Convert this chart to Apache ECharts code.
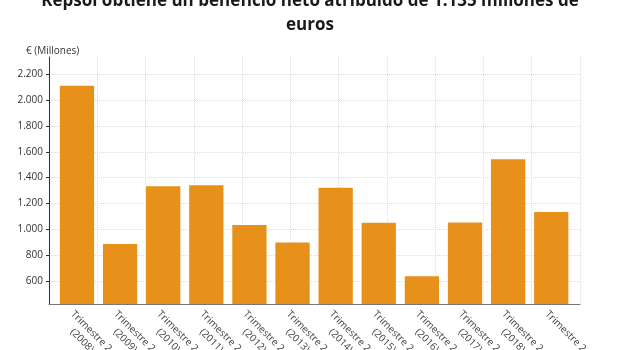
<!DOCTYPE html>
<html>
<head>
<meta charset="utf-8">
<script src="https://cdn.jsdelivr.net/npm/echarts@6.0.0/dist/echarts.min.js"></script>
<style>
html, body { margin: 0; padding: 0; background: #fff; }
#chart { width: 620px; height: 350px; }
</style>
</head>
<body>
<div id="chart"></div>
<script>
// datos
var categorias = ['Trimestre 2\n(2008)', 'Trimestre 2\n(2009)', 'Trimestre 2\n(2010)', 'Trimestre 2\n(2011)',
    'Trimestre 2\n(2012)', 'Trimestre 2\n(2013)', 'Trimestre 2\n(2014)', 'Trimestre 2\n(2015)',
    'Trimestre 2\n(2016)', 'Trimestre 2\n(2017)', 'Trimestre 2\n(2018)', 'Trimestre 2'];
var beneficio = [2112, 886, 1333, 1341, 1033, 896, 1322, 1049, 636, 1051, 1542, 1133];
var yTicks = [600, 800, 1000, 1200, 1400, 1600, 1800, 2000, 2200];

function miles(v) {
    return String(v).replace(/\B(?=(\d{3})+(?!\d))/g, '.');
}

var chart = echarts.init(document.getElementById('chart'));
var fuente = '"Open Sans", sans-serif';

var option = {
    backgroundColor: '#fff',
    animation: false,
    title: [{
        text: 'Repsol obtiene un beneficio neto atribuido de 1.135 millones de\neuros',
        left: 'center',
        top: -16,
        textStyle: {
            fontFamily: fuente,
            fontSize: 17,
            fontWeight: 'bold',
            color: '#1a1a1a',
            lineHeight: 24,
            align: 'center'
        }
    }, {
        text: '€ (Millones)',
        left: 21,
        top: 41,
        textStyle: {
            fontFamily: fuente,
            fontSize: 10,
            fontWeight: 'normal',
            color: '#333'
        }
    }],
    grid: [
        {left: 49, right: 40, top: 57, bottom: 46, outerBoundsMode: 'none'},
        {left: 55.4, right: 47.2, top: 57, bottom: 46, outerBoundsMode: 'none'}
    ],
    xAxis: [{
        // rejilla vertical de fondo
        type: 'value',
        gridIndex: 0,
        min: 0,
        max: 11,
        interval: 1,
        axisLine: {show: true, lineStyle: {color: '#777', width: 1}},
        axisTick: {show: false},
        axisLabel: {show: false},
        splitLine: {show: true, lineStyle: {color: '#dcdcdc', type: 'dotted'}}
    }, {
        type: 'category',
        gridIndex: 1,
        data: categorias,
        axisLine: {show: false},
        axisTick: {show: false},
        axisLabel: {
            interval: 0,
            rotate: -45,
            margin: 4,
            verticalAlign: 'top',
            color: '#444',
            fontFamily: fuente,
            fontSize: 10,
            formatter: function (v) {
                return v.split('\n').map(function (s) { return '{a|' + s + '}'; }).join('\n');
            },
            rich: {
                a: {align: 'center', fontFamily: fuente, fontSize: 10, color: '#444', lineHeight: 13}
            }
        }
    }],
    yAxis: [{
        type: 'value',
        gridIndex: 0,
        min: 420,
        max: 2335,
        axisLine: {show: true, lineStyle: {color: '#333'}},
        axisTick: {show: true, length: 3, customValues: yTicks, lineStyle: {color: '#333'}},
        axisLabel: {
            customValues: yTicks,
            color: '#333',
            fontFamily: fuente,
            fontSize: 10,
            margin: 6,
            formatter: miles
        },
        splitLine: {show: true, lineStyle: {color: '#dcdcdc', type: 'dotted'}}
    }, {
        type: 'value',
        gridIndex: 1,
        min: 420,
        max: 2335,
        show: false
    }],
    series: [{
        type: 'bar',
        xAxisIndex: 1,
        yAxisIndex: 1,
        barCategoryGap: '20.5%',
        itemStyle: {color: '#e8911a'},
        data: beneficio
    }]
};
chart.setOption(option);
window.addEventListener('resize', chart.resize);
</script>
</body>
</html>
